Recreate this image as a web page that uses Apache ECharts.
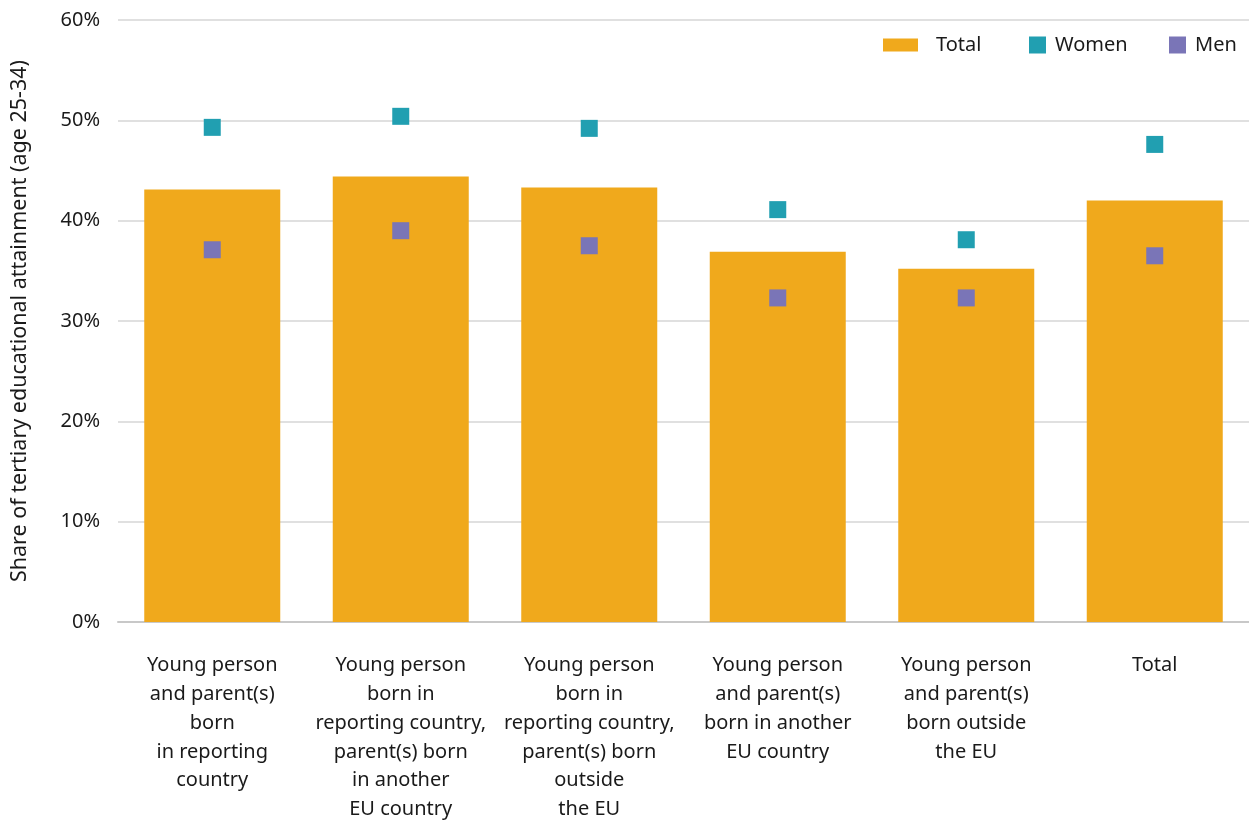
<!DOCTYPE html>
<html>
<head>
<meta charset="utf-8">
<script src="https://cdn.jsdelivr.net/npm/echarts@6/dist/echarts.min.js"></script>
<style>
  html, body { margin: 0; padding: 0; background: #fff; }
  #chart { width: 1249px; height: 821px; }
</style>
</head>
<body>
<div id="chart"></div>
<script>
// Categories (axis labels with line breaks as typeset)
const categories = [
  'Young person\nand parent(s)\nborn\nin reporting\ncountry',
  'Young person\nborn in\nreporting country,\nparent(s) born\nin another\nEU country',
  'Young person\nborn in\nreporting country,\nparent(s) born\noutside\nthe EU',
  'Young person\nand parent(s)\nborn in another\nEU country',
  'Young person\nand parent(s)\nborn outside\nthe EU',
  'Total'
];

// Share of tertiary educational attainment, age 25-34 (%)
const totalValues = [43.1, 44.4, 43.3, 36.9, 35.2, 42.0];
const womenValues = [49.3, 50.4, 49.2, 41.1, 38.1, 47.6];
const menValues   = [37.1, 39.0, 37.5, 32.3, 32.3, 36.5];

const yTicks = { min: 0, max: 60, interval: 10 };

const FONT = '"Noto Sans", "Open Sans", sans-serif';
const TEXT = '#1a1a1a';
const C_TOTAL = '#F0A91C';
const C_WOMEN = '#219FB1';
const C_MEN = '#7A75B7';

const chart = echarts.init(document.getElementById('chart'));

const legendText = { fontFamily: FONT, fontSize: 20, color: TEXT };

chart.setOption({
  animation: false,
  textStyle: { fontFamily: FONT },
  grid: { left: 118, right: 0, top: 20, bottom: 199, containLabel: false, outerBoundsMode: 'none' },
  legend: [
    { data: ['Total'], left: 883, top: 35, padding: 0, itemWidth: 35, itemHeight: 13, itemGap: 0,
      icon: 'rect', textStyle: Object.assign({ padding: [0, 0, 0, 13] }, legendText) },
    { data: ['Women'], left: 1029, top: 35, padding: 0, itemWidth: 17, itemHeight: 17, itemGap: 0,
      icon: 'rect', textStyle: Object.assign({ padding: [0, 0, 0, 4] }, legendText) },
    { data: ['Men'], left: 1169, top: 35, padding: 0, itemWidth: 17, itemHeight: 17, itemGap: 0,
      icon: 'rect', textStyle: Object.assign({ padding: [0, 0, 0, 4] }, legendText) }
  ],
  xAxis: {
    type: 'category',
    data: categories,
    axisLine: { show: true, lineStyle: { color: '#c8c8c8', width: 2 } },
    axisTick: { show: false },
    axisLabel: {
      interval: 0, margin: 29, color: TEXT, fontFamily: FONT, fontSize: 20,
      lineHeight: 28.8, align: 'center'
    }
  },
  yAxis: {
    type: 'value',
    min: yTicks.min, max: yTicks.max, interval: yTicks.interval,
    name: 'Share of tertiary educational attainment (age 25-34)',
    nameLocation: 'middle',
    nameGap: 87,
    nameTextStyle: { fontFamily: FONT, fontSize: 21.5, color: TEXT },
    axisLine: { show: false },
    axisTick: { show: false },
    axisLabel: { formatter: '{value}%', color: TEXT, fontFamily: FONT, fontSize: 20, margin: 18 },
    splitLine: { lineStyle: { color: '#d6d6d6', width: 1.5 } }
  },
  series: [
    { name: 'Total', type: 'bar', data: totalValues, barWidth: 136,
      itemStyle: { color: C_TOTAL }, z: 1 },
    { name: 'Women', type: 'scatter', data: womenValues, symbol: 'rect', symbolSize: 17,
      itemStyle: { color: C_WOMEN, opacity: 1 }, z: 3 },
    { name: 'Men', type: 'scatter', data: menValues, symbol: 'rect', symbolSize: 17,
      itemStyle: { color: C_MEN, opacity: 1 }, z: 3 }
  ]
});
</script>
</body>
</html>
